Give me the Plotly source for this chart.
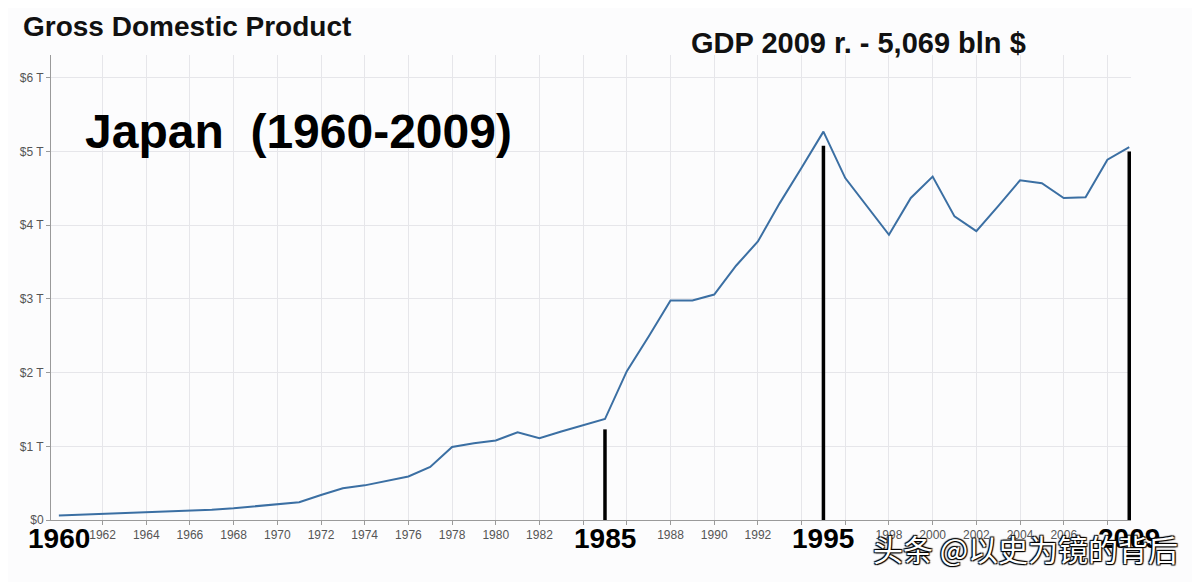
import plotly.graph_objects as go

years = list(range(1960, 2010))
gdp_trillion = [0.06, 0.07, 0.08, 0.09, 0.10, 0.11, 0.125, 0.14, 0.16, 0.185,
                0.21, 0.24, 0.34, 0.43, 0.47, 0.53, 0.59, 0.72, 0.99, 1.04,
                1.08, 1.19, 1.11, 1.20, 1.28, 1.37, 2.02, 2.49, 2.98, 2.98,
                3.06, 3.45, 3.78, 4.30, 4.78, 5.27, 4.64, 4.25, 3.87, 4.37,
                4.66, 4.12, 3.92, 4.26, 4.61, 4.57, 4.37, 4.38, 4.89, 5.06]

marker_years = [1985, 1995, 2009]
marker_tops = [1.23, 5.08, 5.00]
big_year_labels = [1960, 1985, 1995, 2009]

x_tickvals = list(range(1962, 2010, 2))
hidden_ticks = {1984, 1986, 1994, 1996, 2008}
x_ticktext = ["" if v in hidden_ticks else str(v) for v in x_tickvals]
y_tickvals = [0, 1, 2, 3, 4, 5, 6]
y_ticktext = ["$0", "$1 T", "$2 T", "$3 T", "$4 T", "$5 T", "$6 T"]

fig = go.Figure()
fig.add_trace(go.Scatter(x=years, y=gdp_trillion, mode="lines",
                         line=dict(color="#3b6fa3", width=2), showlegend=False,
                         hoverinfo="x+y"))

for yr, top in zip(marker_years, marker_tops):
    fig.add_shape(type="line", xref="x", yref="y", x0=yr, x1=yr, y0=0, y1=top,
                  line=dict(color="black", width=3.5))

annotations = [
    dict(text="<b>Gross Domestic Product</b>", xref="paper", yref="paper",
         x=-0.028, y=1.0, xanchor="left", yanchor="bottom", yshift=11, showarrow=False,
         font=dict(family="Liberation Sans, Arial", size=28, color="#111")),
    dict(text="<b>GDP 2009 r. - 5,069 bln $</b>", xref="paper", yref="paper",
         x=0.591, y=1.0, xanchor="left", yanchor="bottom", yshift=-6, showarrow=False,
         font=dict(family="Liberation Sans, Arial", size=29, color="#111")),
    dict(text="<b>Japan  (1960-2009)</b>", xref="paper", yref="y",
         x=0.030, y=5.27, xanchor="left", yanchor="middle", showarrow=False,
         font=dict(family="Liberation Sans, Arial", size=48, color="black")),
]
for yr in big_year_labels:
    annotations.append(dict(text=f"<b>{yr}</b>", xref="x", yref="paper", x=yr, y=0,
                            xanchor="center", yanchor="top", yshift=-1, showarrow=False,
                            font=dict(family="Liberation Sans, Arial", size=28, color="black")))
annotations.append(dict(text="头条 @以史为镜的背后", xref="paper", yref="paper",
                        x=1.045, y=0, xanchor="right", yanchor="top", yshift=-4,
                        showarrow=False,
                        font=dict(family="Noto Sans CJK SC", size=30, color="white",
                                  shadow="1px 1px 1px #000, -1px -1px 1px #000, 1px -1px 1px #000, -1px 1px 1px #000")))

fig.update_layout(
    width=1192, height=574,
    margin=dict(l=37, r=69, t=47, b=62),
    paper_bgcolor="#fcfcfd", plot_bgcolor="#fcfcfd",
    annotations=annotations,
    xaxis=dict(range=[1959.64, 2009.08], tickvals=x_tickvals, ticktext=x_ticktext,
               showgrid=True, gridcolor="#e6e6ea", gridwidth=1,
               showline=True, linecolor="#9a9a9a", linewidth=1,
               ticks="outside", ticklen=4, tickcolor="#9a9a9a",
               tickfont=dict(family="Liberation Sans, Arial", size=12, color="#555"),
               zeroline=False),
    yaxis=dict(range=[0, 6.31], tickvals=y_tickvals, ticktext=y_ticktext,
               showgrid=True, gridcolor="#e6e6ea", gridwidth=1,
               showline=True, linecolor="#9a9a9a", linewidth=1,
               ticks="outside", ticklen=4, tickcolor="#9a9a9a",
               tickfont=dict(family="Liberation Sans, Arial", size=12, color="#555"),
               zeroline=False),
)

fig.write_html("out.html")
